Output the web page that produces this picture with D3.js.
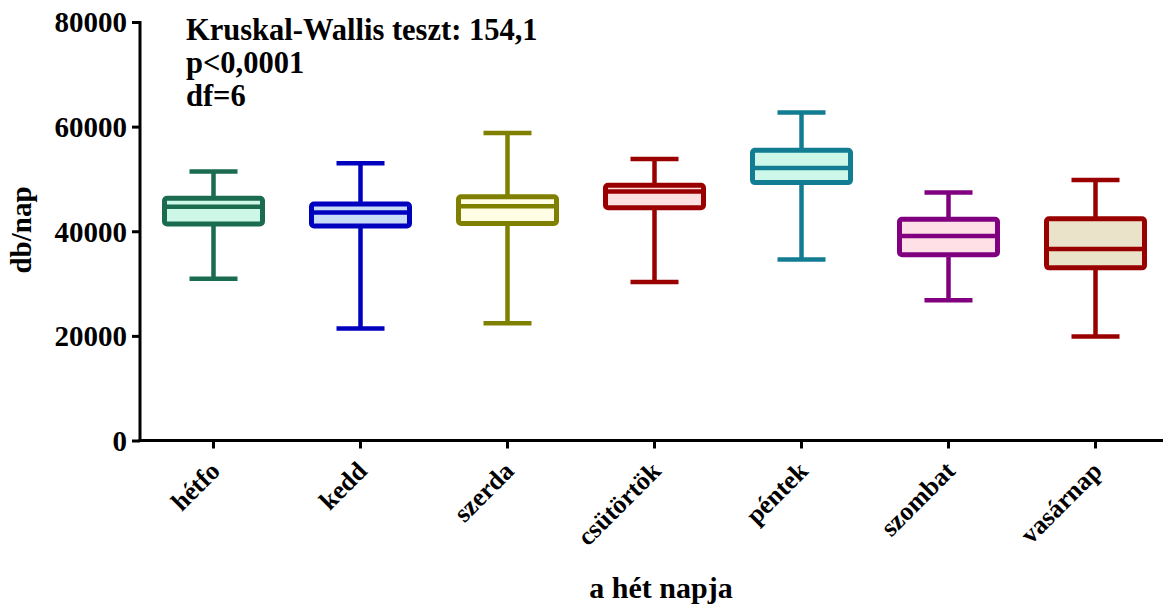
<!DOCTYPE html>
<html>
<head>
<meta charset="utf-8">
<script src="https://cdn.jsdelivr.net/npm/d3@7"></script>
<style>
  html, body { margin: 0; padding: 0; background: #fff; }
</style>
</head>
<body>
<svg id="chart" width="1163" height="605"></svg>
<script>
// Napi darabszám a hét napjai szerint (box: Q1–medián–Q3, bajusz: min–max)
const days     = ["hétfo", "kedd", "szerda", "csütörtök", "péntek", "szombat", "vasárnap"];
const minVals  = [30900, 21400, 22400, 30300, 34600, 26800, 19900];
const q1Vals   = [41400, 41000, 41500, 44500, 49300, 35500, 33000];
const medVals  = [44700, 43600, 44800, 47600, 52100, 39100, 36600];
const q3Vals   = [46300, 45200, 46600, 48800, 55500, 42300, 42400];
const maxVals  = [51400, 53000, 58800, 53800, 62700, 47400, 49800];
const strokeColors = ["#1a6b4f", "#0000bf", "#808000", "#9a0000", "#127d92", "#800080", "#990000"];
const fillColors   = ["#cdf7e6", "#c9dcf7", "#fffde3", "#ffe0e0", "#cdf7e8", "#ffe0e6", "#ebe3c9"];
const yTicks = [0, 20000, 40000, 60000, 80000];
const statLines = ["Kruskal-Wallis teszt: 154,1", "p<0,0001", "df=6"];

const FONT = '"Liberation Serif", "Times New Roman", serif';
const svg = d3.select("#chart");

const x = d3.scaleBand().domain(days).range([140, 1169]).paddingInner(0).paddingOuter(0);
const y = d3.scaleLinear().domain([0, 80000]).range([440.5, 22]);

const rows = days.map((d, i) => ({
  day: d, min: minVals[i], q1: q1Vals[i], med: medVals[i], q3: q3Vals[i], max: maxVals[i],
  stroke: strokeColors[i], fill: fillColors[i]
}));

const boxW = 98, capW = 48;

const g = svg.append("g");
const box = g.selectAll("g.box").data(rows).join("g").attr("class", "box")
  .attr("transform", d => `translate(${x(d.day) + x.bandwidth() / 2},0)`);

// bajuszok
box.append("line").attr("x1", 0).attr("x2", 0)
  .attr("y1", d => y(d.max)).attr("y2", d => y(d.q3))
  .attr("stroke", d => d.stroke).attr("stroke-width", 4.5);
box.append("line").attr("x1", 0).attr("x2", 0)
  .attr("y1", d => y(d.q1)).attr("y2", d => y(d.min))
  .attr("stroke", d => d.stroke).attr("stroke-width", 4.5);
box.append("line").attr("x1", -capW / 2).attr("x2", capW / 2)
  .attr("y1", d => y(d.max)).attr("y2", d => y(d.max))
  .attr("stroke", d => d.stroke).attr("stroke-width", 4.5);
box.append("line").attr("x1", -capW / 2).attr("x2", capW / 2)
  .attr("y1", d => y(d.min)).attr("y2", d => y(d.min))
  .attr("stroke", d => d.stroke).attr("stroke-width", 4.5);

// doboz
box.append("rect")
  .attr("x", -boxW / 2).attr("width", boxW)
  .attr("y", d => y(d.q3)).attr("height", d => y(d.q1) - y(d.q3))
  .attr("rx", 2.5)
  .attr("fill", d => d.fill).attr("stroke", d => d.stroke).attr("stroke-width", 5);

// medián
box.append("line").attr("x1", -boxW / 2).attr("x2", boxW / 2)
  .attr("y1", d => y(d.med)).attr("y2", d => y(d.med))
  .attr("stroke", d => d.stroke).attr("stroke-width", 4.5);

// y tengely
const yAxis = svg.append("g").attr("transform", "translate(140,0)")
  .call(d3.axisLeft(y).tickValues(yTicks).tickFormat(d3.format("d")).tickSize(8).tickPadding(5));
yAxis.select(".domain").attr("stroke", "#000").attr("stroke-width", 3)
  .attr("d", `M0,${y(80000) - 1}V${y(0) + 1.5}`);
yAxis.selectAll(".tick line").attr("stroke", "#000").attr("stroke-width", 3);
yAxis.selectAll(".tick text")
  .style("font-family", FONT).style("font-weight", "bold").style("font-size", "29px")
  .attr("fill", "#000").attr("dy", "0.34em");

// x tengely
const xAxis = svg.append("g").attr("transform", `translate(0,${y(0)})`)
  .call(d3.axisBottom(x).tickSize(8).tickSizeOuter(0));
xAxis.select(".domain").attr("stroke", "#000").attr("stroke-width", 3)
  .attr("d", "M138.5,0H1163");
xAxis.selectAll(".tick line").attr("stroke", "#000").attr("stroke-width", 3);
xAxis.selectAll(".tick text")
  .style("font-family", FONT).style("font-weight", "bold").style("font-size", "26px")
  .attr("fill", "#000")
  .attr("text-anchor", "end")
  .attr("dy", null)
  .attr("y", 0)
  .attr("transform", "translate(8,32) rotate(-45)");

// tengelycímek
svg.append("text")
  .attr("transform", "translate(31,230) rotate(-90)")
  .attr("text-anchor", "middle")
  .style("font-family", FONT).style("font-weight", "bold").style("font-size", "29px")
  .text("db/nap");

svg.append("text")
  .attr("x", 661).attr("y", 598)
  .attr("text-anchor", "middle")
  .style("font-family", FONT).style("font-weight", "bold").style("font-size", "30px")
  .text("a hét napja");

// statisztika
svg.append("g").selectAll("text").data(statLines).join("text")
  .attr("x", 186).attr("y", (d, i) => 40 + i * 33)
  .style("font-family", FONT).style("font-weight", "bold").style("font-size", "30.5px")
  .text(d => d);
</script>
</body>
</html>
